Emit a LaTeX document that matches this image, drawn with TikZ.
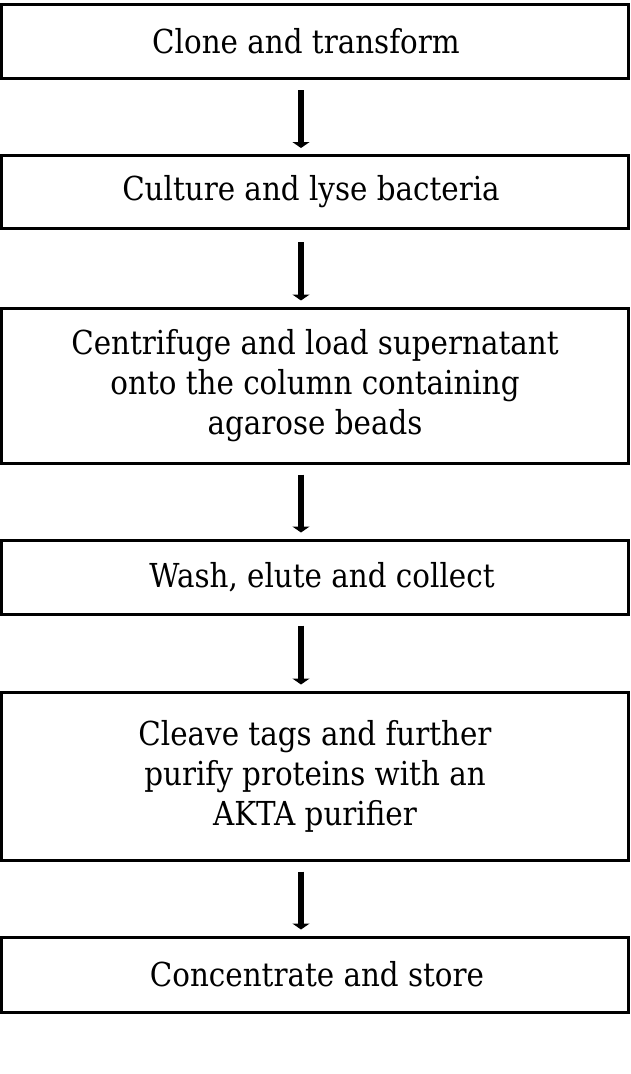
\documentclass[tikz,border=0pt]{standalone}
\usepackage{fontspec}
\setmainfont{DejaVu Serif}[FakeStretch=0.89]
\usetikzlibrary{arrows.meta}
\tikzset{
  stepbox/.style={draw=black, line width=3pt, minimum width=627pt, inner sep=0pt, align=center,
    font=\fontsize{33}{40}\selectfont, text=black},
  flowarrow/.style={line width=6pt, -{Triangle[width=17pt,length=6pt]}, black}
}
\begin{document}
\begin{tikzpicture}[x=1pt,y=1pt]
\useasboundingbox (0,0) rectangle (631,-1074);
\fill[white] (0,0) rectangle (631,-1074);
\node[stepbox, minimum height=74pt] (b1) at (315,-41.5) {Clone and transform\hspace*{18pt}};
\node[stepbox, minimum height=73pt] (b2) at (315,-192) {Culture and lyse bacteria\hspace*{8pt}};
\node[stepbox, minimum height=155pt] (b3) at (315,-385.5) {Centrifuge and load supernatant\\onto the column containing\\agarose beads};
\node[stepbox, minimum height=74pt] (b4) at (315,-577) {\hspace*{14pt}Wash, elute and collect};
\node[stepbox, minimum height=168pt] (b5) at (315,-776) {Cleave tags and further\\purify proteins with an\\AKTA purifier};
\node[stepbox, minimum height=75pt] (b6) at (315,-974.5) {\hspace*{4pt}Concentrate and store};
\draw[flowarrow] ([xshift=-14pt,yshift=-10pt]b1.south) -- ([xshift=-14pt,yshift=6pt]b2.north);
\draw[flowarrow] ([xshift=-14pt,yshift=-12pt]b2.south) -- ([xshift=-14pt,yshift=6pt]b3.north);
\draw[flowarrow] ([xshift=-14pt,yshift=-10pt]b3.south) -- ([xshift=-14pt,yshift=6pt]b4.north);
\draw[flowarrow] ([xshift=-14pt,yshift=-10pt]b4.south) -- ([xshift=-14pt,yshift=6pt]b5.north);
\draw[flowarrow] ([xshift=-14pt,yshift=-10pt]b5.south) -- ([xshift=-14pt,yshift=6pt]b6.north);
\end{tikzpicture}
\end{document}
